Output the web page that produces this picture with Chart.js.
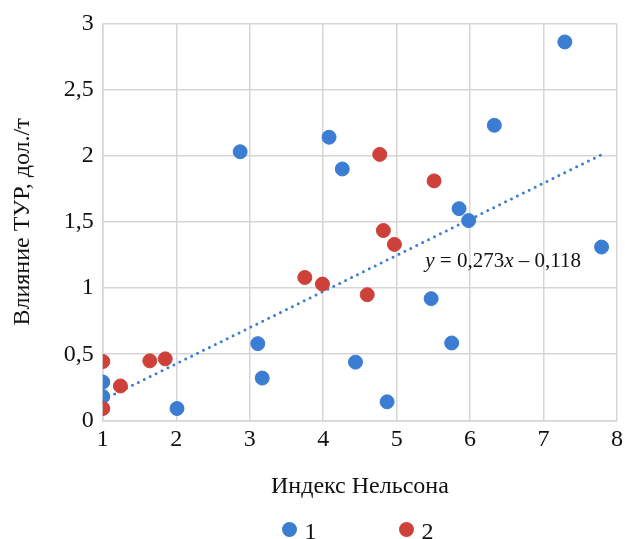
<!DOCTYPE html>
<html>
<head>
<meta charset="utf-8">
<script src="https://cdn.jsdelivr.net/npm/chart.js@4/dist/chart.umd.min.js"></script>
<style>
  html, body { margin: 0; padding: 0; background: #fff; }
  #wrap { position: relative; width: 625px; height: 539px; }
  #legend {
    position: absolute; left: 0; top: 517px; width: 625px; box-sizing: border-box;
    padding-left: 90px; display: flex; justify-content: center; gap: 82px;
    font: 24px 'Liberation Serif', 'Times New Roman', serif; color: #111;
  }
  #legend .item { display: flex; align-items: center; gap: 8px; height: 28px; }
  #legend .dot { width: 15px; height: 15px; border-radius: 50%; margin-top: -4px; }
</style>
</head>
<body>
<div id="wrap">
  <canvas id="chart"></canvas>
  <div id="legend"></div>
</div>
<script>
// series 1 (blue)
const blueX = [2.87, 4.08, 4.26, 7.29, 6.33, 5.85, 5.98, 7.79, 5.47, 5.75, 4.44, 4.87, 3.11, 3.17, 2.01, 1.0, 1.0];
const blueY = [2.03, 2.14, 1.90, 2.86, 2.23, 1.60, 1.51, 1.31, 0.92, 0.585, 0.44, 0.14, 0.58, 0.32, 0.09, 0.29, 0.18];
// series 2 (red)
const redX = [4.77, 5.51, 4.82, 4.97, 4.60, 3.75, 3.99, 1.0, 1.64, 1.85, 1.24, 1.0];
const redY = [2.01, 1.81, 1.435, 1.33, 0.95, 1.08, 1.03, 0.445, 0.45, 0.465, 0.26, 0.09];

const seriesNames = ['1', '2'];
const trendSlope = 0.273;
const trendIntercept = -0.118;
const trendRange = [1.0, 7.78];
const equationText = ['y', ' = 0,273', 'x', ' – 0,118'];

const blue = '#3b7dd2';
const red = '#cd413a';
const serif = "'Liberation Serif', 'Times New Roman', serif";

const toPoints = (xs, ys) => xs.map((x, i) => ({ x: x, y: ys[i] }));
const trendPoints = trendRange.map(x => ({ x: x, y: trendSlope * x + trendIntercept }));

// draws the trendline equation, y and x in italic
const equationPlugin = {
    id: 'equation',
    afterDatasetsDraw(chart) {
        const ctx = chart.ctx;
        const xs = chart.scales.x, ys = chart.scales.y;
        let px = xs.getPixelForValue(5.39);
        const py = ys.getPixelForValue(1.2);
        ctx.save();
        ctx.fillStyle = '#111';
        ctx.textBaseline = 'middle';
        equationText.forEach((part, i) => {
            ctx.font = (i % 2 === 0 ? 'italic ' : '') + '21px ' + serif;
            ctx.fillText(part, px, py);
            px += ctx.measureText(part).width;
        });
        ctx.restore();
    }
};

Chart.defaults.font.family = serif;
Chart.defaults.font.size = 24;
Chart.defaults.color = '#111';

const chart = new Chart(document.getElementById('chart'), {
    type: 'scatter',
    data: {
        datasets: [
            {
                label: seriesNames[0],
                data: toPoints(blueX, blueY),
                backgroundColor: blue,
                borderColor: blue,
                pointRadius: 7,
                order: 1
            },
            {
                label: seriesNames[1],
                data: toPoints(redX, redY),
                backgroundColor: red,
                borderColor: red,
                pointRadius: 7,
                order: 0
            },
            {
                label: 'trend',
                type: 'line',
                data: trendPoints,
                borderColor: blue,
                borderWidth: 3,
                borderDash: [0, 6.6],
                borderCapStyle: 'round',
                pointRadius: 0,
                fill: false,
                order: 2
            }
        ]
    },
    options: {
        responsive: true,
        maintainAspectRatio: false,
        animation: false,
        layout: { padding: { top: 8, right: 0, left: 8, bottom: 38 } },
        plugins: {
            tooltip: { enabled: false },
            legend: { display: false }
        },
        scales: {
            x: {
                type: 'linear',
                min: 1,
                max: 8,
                ticks: { stepSize: 1, padding: 5 },
                grid: { color: '#d6d6d6', lineWidth: 1.5, drawTicks: false },
                border: { color: '#d6d6d6', width: 1.5 },
                title: { display: true, text: 'Индекс Нельсона', padding: { top: 13, bottom: 0 } },
                afterFit: scale => { scale.paddingRight = 5; }
            },
            y: {
                min: 0,
                max: 3,
                ticks: {
                    stepSize: 0.5,
                    padding: 9,
                    callback: v => String(v).replace('.', ',')
                },
                grid: { color: '#d6d6d6', lineWidth: 1.5, drawTicks: false },
                border: { color: '#d6d6d6', width: 1.5 },
                title: { display: true, text: 'Влияние ТУР, дол./т', padding: { top: 0, bottom: 18 } }
            }
        }
    },
    plugins: [equationPlugin]
});

// simple html legend built from the two point series
const legendDiv = document.getElementById('legend');
chart.data.datasets.slice(0, 2).forEach(ds => {
    const item = document.createElement('div');
    item.className = 'item';
    item.innerHTML = `<span class="dot" style="background:${ds.backgroundColor}"></span><span>${ds.label}</span>`;
    legendDiv.appendChild(item);
});
</script>
</body>
</html>
